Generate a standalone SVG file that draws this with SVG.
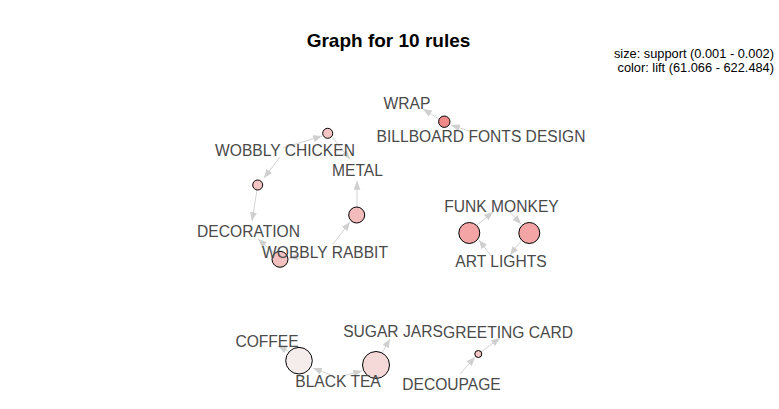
<svg xmlns="http://www.w3.org/2000/svg" width="779" height="409" viewBox="0 0 779 409">
<defs>
<marker id="ah" viewBox="0 0 10 8" refX="10" refY="4" markerWidth="9" markerHeight="7" markerUnits="userSpaceOnUse" orient="auto">
<path d="M0,0 L10,4 L0,8 Z" fill="#cfcfcf"/>
</marker>
</defs>
<style>
.e{stroke:#d3d3d3;stroke-width:1;fill:none;marker-end:url(#ah)}
.n{stroke:#000;stroke-width:1}
.l{font-family:"Liberation Sans",Arial,sans-serif;font-size:15.6px;fill:#4a4a4a;text-anchor:middle}
.t{font-family:"Liberation Sans",Arial,sans-serif;font-size:19px;font-weight:bold;fill:#000;text-anchor:middle}
.g{font-family:"Liberation Sans",Arial,sans-serif;font-size:12.8px;fill:#000;text-anchor:end}
</style>
<rect width="779" height="409" fill="#fff"/>
<text class="t" x="388.5" y="47">Graph for 10 rules</text>
<text class="g" x="774" y="58">size: support (0.001 - 0.002)</text>
<text class="g" x="774" y="72">color: lift (61.066 - 622.484)</text>
<g id="connectors">
<line class="e" x1="469" y1="131" x2="451" y2="125"/>
<line class="e" x1="439" y1="119" x2="423" y2="109"/>
<line class="e" x1="283" y1="148" x2="322" y2="136"/>
<line class="e" x1="332" y1="137" x2="350" y2="159"/>
<line class="e" x1="280" y1="157" x2="264" y2="178"/>
<line class="e" x1="257" y1="190" x2="252" y2="221"/>
<line class="e" x1="274" y1="253" x2="258" y2="239"/>
<line class="e" x1="305" y1="256" x2="289" y2="258"/>
<line class="e" x1="333" y1="244" x2="350" y2="222"/>
<line class="e" x1="357" y1="207" x2="357" y2="181"/>
<line class="e" x1="491" y1="256" x2="479" y2="240"/>
<line class="e" x1="477" y1="225" x2="493" y2="212"/>
<line class="e" x1="509" y1="211" x2="521" y2="224"/>
<line class="e" x1="521" y1="241" x2="510" y2="255"/>
<line class="e" x1="331" y1="375" x2="313" y2="368"/>
<line class="e" x1="290" y1="352" x2="278" y2="346"/>
<line class="e" x1="342" y1="376" x2="362" y2="371"/>
<line class="e" x1="382" y1="353" x2="390" y2="339"/>
<line class="e" x1="460" y1="374" x2="475" y2="357"/>
<line class="e" x1="481" y1="352" x2="500" y2="338"/>
</g>
<g id="r_wrap"><circle class="n" cx="444.3" cy="121.7" r="5.7" fill="#f08a8a"/></g>
<g id="r_chicken_metal"><circle class="n" cx="327.7" cy="133.3" r="5" fill="#f4c4c4"/></g>
<g id="r_chicken_deco"><circle class="n" cx="257.7" cy="185" r="5" fill="#f4c4c4"/></g>
<g id="r_rabbit_metal"><circle class="n" cx="356.7" cy="215" r="8" fill="#f3bcbc"/></g>
<g id="r_rabbit_deco"><circle class="n" cx="280" cy="259.3" r="8" fill="#f3c0c0"/></g>
<g id="r_funk1"><circle class="n" cx="469.3" cy="233" r="10.5" fill="#f3a5a5"/></g>
<g id="r_funk2"><circle class="n" cx="529.3" cy="233" r="10.5" fill="#f3a5a5"/></g>
<g id="r_coffee"><circle class="n" cx="299" cy="360.7" r="13.3" fill="#f5ecec"/></g>
<g id="r_sugar"><circle class="n" cx="376" cy="365" r="13.5" fill="#f5d9d9"/></g>
<g id="r_greeting"><circle class="n" cx="478.3" cy="354" r="3.5" fill="#f5c8c8"/></g>
<g id="labels">
<g id="i_wrap"><text class="l" x="407" y="109">WRAP</text></g>
<g id="i_billboard"><text class="l" x="481" y="141.5">BILLBOARD FONTS DESIGN</text></g>
<g id="i_chicken"><text class="l" x="285" y="156">WOBBLY CHICKEN</text></g>
<g id="i_metal"><text class="l" x="357.5" y="176">METAL</text></g>
<g id="i_decoration"><text class="l" x="248.5" y="237">DECORATION</text></g>
<g id="i_rabbit"><text class="l" x="325" y="258">WOBBLY RABBIT</text></g>
<g id="i_funk"><text class="l" x="501.5" y="212">FUNK MONKEY</text></g>
<g id="i_art"><text class="l" x="501" y="267">ART LIGHTS</text></g>
<g id="i_coffee"><text class="l" x="267" y="347">COFFEE</text></g>
<g id="i_blacktea"><text class="l" x="338" y="386.5">BLACK TEA</text></g>
<g id="i_sugar"><text class="l" x="393" y="337">SUGAR JARS</text></g>
<g id="i_greeting"><text class="l" x="508" y="338">GREETING CARD</text></g>
<g id="i_decoupage"><text class="l" x="451.5" y="389.5">DECOUPAGE</text></g>
</g>
</svg>
